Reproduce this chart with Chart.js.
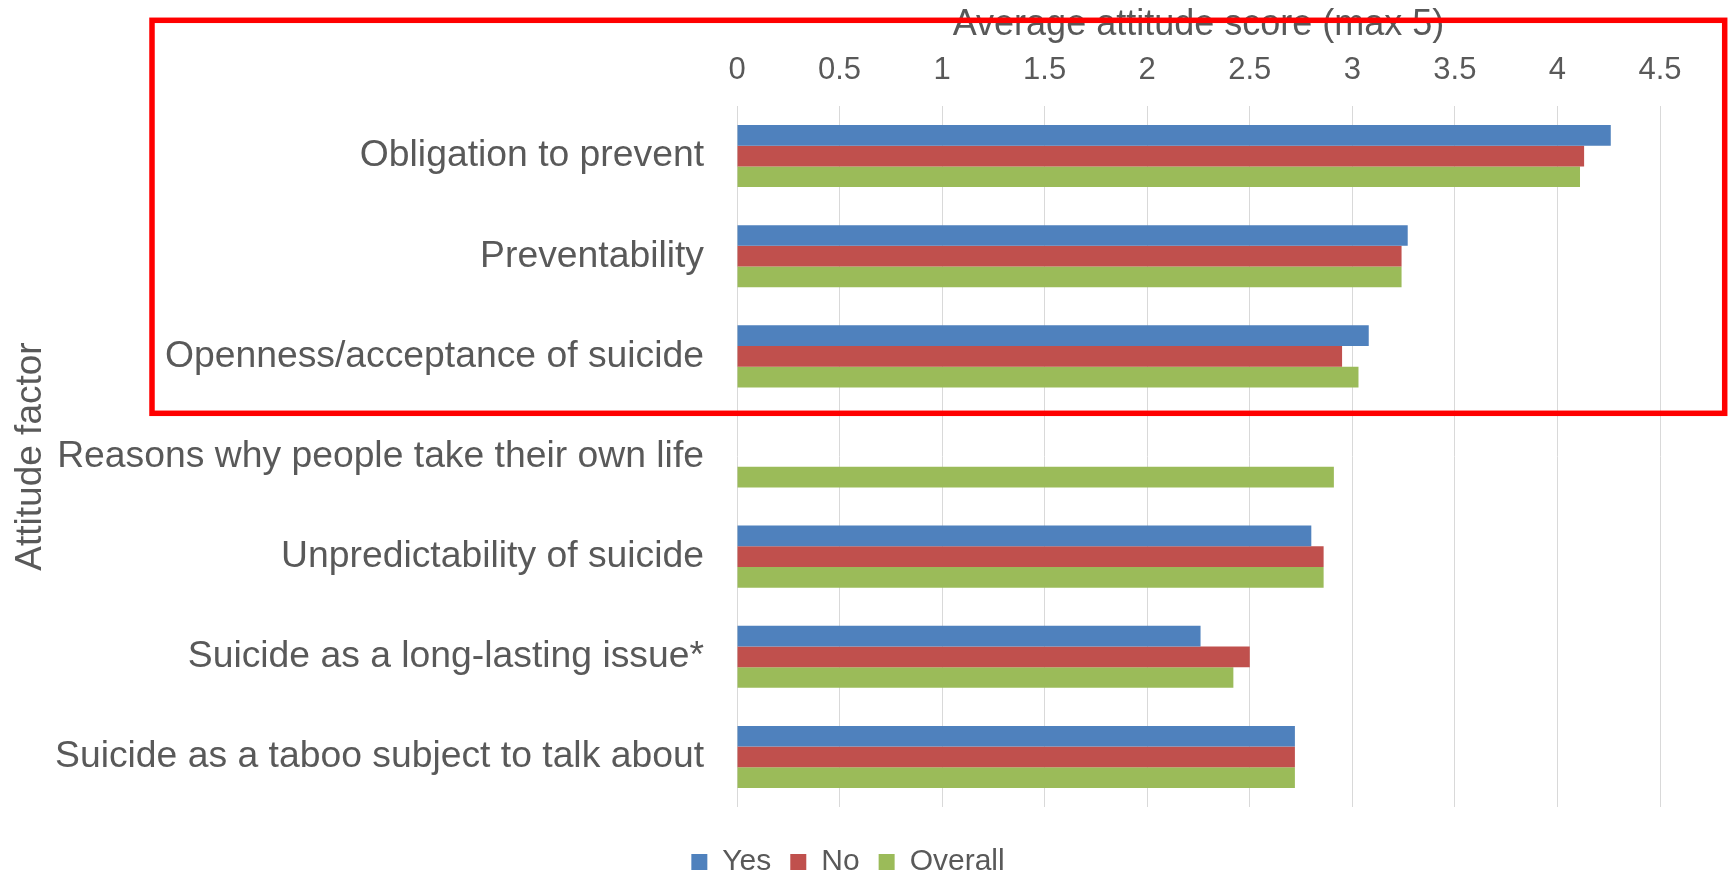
<!DOCTYPE html>
<html>
<head>
<meta charset="utf-8">
<title>Attitude factors</title>
<script src="https://cdn.jsdelivr.net/npm/chart.js@4.4.1/dist/chart.umd.min.js"></script>
<style>
  html, body { margin: 0; padding: 0; background: #ffffff; }
  #wrap { width: 1729px; height: 878px; position: relative; }
</style>
</head>
<body>
<div id="wrap"><canvas id="attitude-chart"></canvas></div>
<script>
const FACTORS = [
  "Obligation to prevent",
  "Preventability",
  "Openness/acceptance of suicide",
  "Reasons why people take their own life",
  "Unpredictability of suicide",
  "Suicide as a long-lasting issue*",
  "Suicide as a taboo subject to talk about",
];

const YES = [4.26, 3.27, 3.08, null, 2.80, 2.26, 2.72];
const NO = [4.13, 3.24, 2.95, null, 2.86, 2.50, 2.72];
const OVERALL = [4.11, 3.24, 3.03, 2.91, 2.86, 2.42, 2.72];

const SCORE_TICKS = [0, 0.5, 1, 1.5, 2, 2.5, 3, 3.5, 4, 4.5];

const TEXT_GREY = "#595959";
const GRID_GREY = "#D9D9D9";
const FONT = "'Liberation Sans', Arial, sans-serif";

// red outline drawn over the top three factors
const highlightBox = {
  id: "highlightBox",
  afterDraw(chart) {
    const ctx = chart.ctx;
    ctx.save();
    ctx.strokeStyle = "#FF0000";
    ctx.lineWidth = 5.5;
    ctx.strokeRect(152, 20.3, 1724.7 - 152, 413.3 - 20.3);
    ctx.restore();
  },
};

const config = {
  type: "bar",
  data: {
    labels: FACTORS,
    datasets: [
      { label: "Yes", data: YES, backgroundColor: "#4F81BD" },
      { label: "No", data: NO, backgroundColor: "#C0504D" },
      { label: "Overall", data: OVERALL, backgroundColor: "#9BBB59" },
    ],
  },
  options: {
    indexAxis: "y",
    responsive: true,
    maintainAspectRatio: false,
    animation: false,
    datasets: {
      bar: {
        categoryPercentage: 0.62,
        barPercentage: 1.0,
        borderWidth: 0,
      },
    },
    layout: {
      padding: { left: 36, right: 69, top: 0, bottom: -9 },
    },
    plugins: {
      tooltip: { enabled: false },
      legend: {
        position: "bottom",
        // empty title just adds a little space above the legend row
        title: {
          display: true,
          text: "",
          font: { size: 14, lineHeight: 1.5 },
          padding: 0,
        },
        labels: {
          color: TEXT_GREY,
          font: { family: FONT, size: 30 },
          boxWidth: 16,
          boxHeight: 16,
          padding: 19,
        },
      },
    },
    scales: {
      x: {
        position: "top",
        min: 0,
        max: 4.5,
        afterBuildTicks(scale) {
          scale.ticks = SCORE_TICKS.map((v) => ({ value: v }));
        },
        afterFit(scale) {
          scale.height = 106;
        },
        border: { display: false },
        grid: {
          color: GRID_GREY,
          lineWidth: 1,
          drawTicks: false,
        },
        ticks: {
          color: TEXT_GREY,
          font: { family: FONT, size: 31 },
          padding: 17,
          maxRotation: 0,
          autoSkip: false,
          callback: (value) => String(value),
        },
        title: {
          display: true,
          text: "Average attitude score (max 5)",
          color: TEXT_GREY,
          font: { family: FONT, size: 36 },
          padding: { top: 3, bottom: 0 },
        },
      },
      y: {
        afterFit(scale) {
          scale.width = 701;
        },
        border: { display: false },
        grid: { display: false, drawTicks: false },
        ticks: {
          color: TEXT_GREY,
          font: { family: FONT, size: 37.3 },
          padding: 33,
          autoSkip: false,
        },
        title: {
          display: true,
          text: "Attitude factor",
          color: TEXT_GREY,
          font: { family: FONT, size: 37 },
          padding: { top: -27, bottom: 0 },
        },
      },
    },
  },
  plugins: [highlightBox],
};

const chart = new Chart(document.getElementById("attitude-chart"), config);
</script>
</body>
</html>
